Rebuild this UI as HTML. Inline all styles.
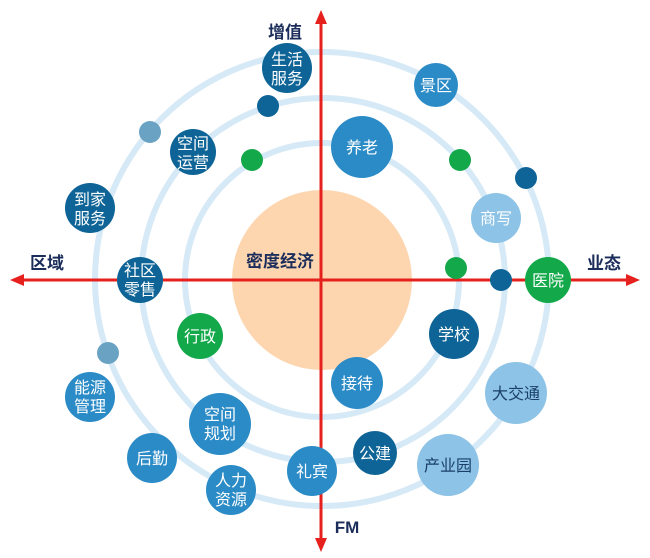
<!DOCTYPE html>
<html><head><meta charset="utf-8"><style>
html,body{margin:0;padding:0;background:#fff;}
svg{display:block;}
text{font-family:"Liberation Sans","Noto Sans CJK SC",sans-serif;}
</style></head><body>
<svg width="650" height="558" viewBox="0 0 650 558" xmlns="http://www.w3.org/2000/svg">
<rect width="650" height="558" fill="#fff"/>
<g fill="none" stroke="#d6e9f6" stroke-width="6">
<circle cx="322" cy="280" r="137"/>
<circle cx="323" cy="280" r="182"/>
<circle cx="322" cy="279" r="227"/>
</g>
<circle cx="322" cy="280" r="90" fill="#fdd6b0"/>
<g stroke="#e5201d" stroke-width="3">
<line x1="20" y1="280" x2="630" y2="280"/>
<line x1="321" y1="20" x2="321" y2="545"/>
</g>
<g fill="#e5201d">
<polygon points="10,280 24,274 24,286"/>
<polygon points="640,280 626,274 626,286"/>
<polygon points="321,10 315,24 327,24"/>
<polygon points="321,552 315,538 327,538"/>
</g>
<g font-weight="bold" fill="#1b2d5a" font-size="17">
<text x="285" y="38" text-anchor="middle">增值</text>
<text x="47" y="269" text-anchor="middle">区域</text>
<text x="604" y="269" text-anchor="middle">业态</text>
<text x="347" y="533" text-anchor="middle">FM</text>
<text x="280" y="267" text-anchor="middle">密度经济</text>
</g>
<circle cx="268" cy="106" r="11" fill="#0e6496"/>
<circle cx="150" cy="132" r="11" fill="#6aa2c4"/>
<circle cx="252" cy="160" r="11" fill="#13a84a"/>
<circle cx="460" cy="160" r="11" fill="#13a84a"/>
<circle cx="526" cy="178" r="11" fill="#0e6496"/>
<circle cx="456" cy="268" r="11" fill="#13a84a"/>
<circle cx="501" cy="280" r="11" fill="#0e6496"/>
<circle cx="108" cy="353" r="11" fill="#6aa2c4"/>
<g font-size="16" text-anchor="middle" fill="#fff">
<circle cx="287" cy="68" r="25" fill="#0e6496"/><text x="287" y="65">生活</text><text x="287" y="84">服务</text>
<circle cx="436" cy="85" r="22" fill="#2b8bc6"/><text x="436" y="91">景区</text>
<circle cx="193" cy="152" r="23" fill="#0e6496"/><text x="193" y="149">空间</text><text x="193" y="168">运营</text>
<circle cx="362" cy="147" r="31" fill="#2b8bc6"/><text x="362" y="153">养老</text>
<circle cx="90" cy="208" r="25" fill="#0e6496"/><text x="90" y="205">到家</text><text x="90" y="224">服务</text>
<circle cx="496" cy="218" r="25" fill="#8cc3e6"/><text x="496" y="224">商写</text>
<circle cx="140" cy="280" r="23" fill="#0e6496"/><text x="140" y="276">社区</text><text x="140" y="295">零售</text>
<circle cx="548" cy="280" r="23" fill="#13a84a"/><text x="548" y="286">医院</text>
<circle cx="200" cy="336" r="23" fill="#13a84a"/><text x="200" y="342">行政</text>
<circle cx="454" cy="334" r="25" fill="#0e6496"/><text x="454" y="340">学校</text>
<circle cx="357" cy="383" r="26" fill="#2b8bc6"/><text x="357" y="389">接待</text>
<circle cx="90" cy="397" r="25" fill="#2b8bc6"/><text x="90" y="393">能源</text><text x="90" y="412">管理</text>
<circle cx="516" cy="393" r="31" fill="#8cc3e6"/><text x="516" y="399" fill="#1b3f6a">大交通</text>
<circle cx="220" cy="424" r="31" fill="#2b8bc6"/><text x="220" y="420">空间</text><text x="220" y="439">规划</text>
<circle cx="152" cy="458" r="25" fill="#2b8bc6"/><text x="152" y="464">后勤</text>
<circle cx="375" cy="453" r="22" fill="#0e6496"/><text x="375" y="459">公建</text>
<circle cx="448" cy="465" r="31" fill="#8cc3e6"/><text x="448" y="471" fill="#1b3f6a">产业园</text>
<circle cx="312" cy="471" r="25" fill="#2b8bc6"/><text x="312" y="477">礼宾</text>
<circle cx="231" cy="490" r="25" fill="#2b8bc6"/><text x="231" y="486">人力</text><text x="231" y="505">资源</text>
</g>
</svg>
</body></html>
